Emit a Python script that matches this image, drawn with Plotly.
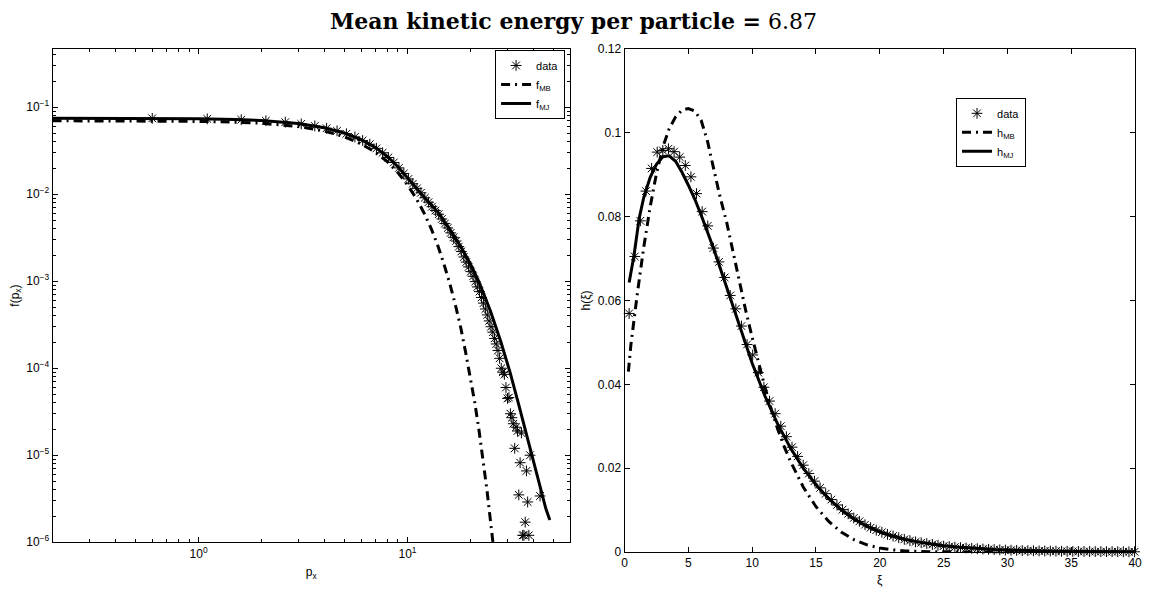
import plotly.graph_objects as go

# ---------------- left panel: f(p_x) ----------------
p_data = [0.6, 1.1, 1.6, 2.1, 2.6, 3.1, 3.6, 4.1, 4.6, 5.1, 5.6, 6.1, 6.6, 7.1, 7.6, 8.1, 8.6, 9.1, 9.6,
          10.1, 10.6, 11.1, 11.6, 12.1, 12.6, 13.1, 13.6, 14.1, 14.6, 15.1, 15.6, 16.1, 16.6, 17.1, 17.6,
          18.1, 18.6, 19.1, 19.6, 20.1, 20.6, 21.1, 21.6, 22.1, 22.6, 23.1, 23.6, 24.1, 24.6, 25.1, 25.6,
          26.1, 26.6, 27.1, 27.6, 28.1, 28.6, 29.1, 29.6, 30.1, 30.6, 31.1, 31.6, 32.1, 32.6, 33.1, 33.6,
          34.1, 34.6, 35.1, 35.6, 36.1, 36.6, 37.1, 37.6, 38.1, 38.6, 43.1]
f_data = [0.0746, 0.0736, 0.0720, 0.0700, 0.0674, 0.0644, 0.0610, 0.0574, 0.0536, 0.0496, 0.0456, 0.0415,
          0.0376, 0.0337, 0.0300, 0.0265, 0.0232, 0.0201, 0.0173, 0.0150, 0.0132, 0.0117, 0.0104, 0.0091,
          0.0081, 0.0072, 0.0065, 0.0059, 0.0052, 0.0046, 0.0041, 0.0036, 0.0032, 0.0029, 0.0025, 0.0022,
          0.0019, 0.00166, 0.00146, 0.00129, 0.00114, 9.9e-4, 8.6e-4, 7.6e-4, 6.5e-4, 5.6e-4, 4.8e-4, 4.1e-4,
          3.5e-4, 3.0e-4, 2.6e-4, 2.2e-4, 1.9e-4, 1.6e-4, 1.3e-4, 1.0e-4, 9.0e-5, 8.5e-5, 6.0e-5, 4.5e-5,
          4.6e-5, 3.0e-5, 2.7e-5, 2.3e-5, 1.2e-5, 2.1e-5, 1.9e-5, 3.5e-6, 8.2e-6, 1.8e-5, 1.2e-6, 1.2e-6,
          1.7e-6, 6.6e-6, 2.9e-6, 1.2e-6, 1.0e-5, 3.4e-6]

p_mb = [0.2, 0.5, 1, 1.5, 2, 3, 4, 5, 6, 7, 8, 9, 10, 11, 12, 13, 14, 15, 16, 17, 18, 19, 20, 21, 22,
        23, 24, 25, 26, 26.5]
f_mb = [0.0700, 0.0697, 0.0688, 0.0674, 0.0655, 0.0601, 0.0533, 0.0458, 0.0380, 0.0305, 0.0237, 0.0177,
        0.0128, 0.0090, 0.0061, 0.0040, 0.00253, 0.00153, 9.1e-4, 5.2e-4, 2.9e-4, 1.5e-4, 8.0e-5, 4.0e-5,
        1.92e-5, 8.9e-6, 4.0e-6, 1.7e-6, 7.4e-7, 5.0e-7]

p_mj = [0.2, 0.3, 0.5, 0.7, 1, 1.5, 2, 3, 4, 5, 6, 7, 8, 9, 10, 12, 14, 16, 18, 20, 22, 25, 28, 31, 34,
        37, 40, 43, 46, 48]
f_mj = [0.0750, 0.0750, 0.0749, 0.0745, 0.0738, 0.0724, 0.0705, 0.0650, 0.0582, 0.0505, 0.0425, 0.0348,
        0.0272, 0.0207, 0.0153, 0.0093, 0.0062, 0.0039, 0.0025, 0.00158, 9.8e-4, 4.5e-4, 2.0e-4, 8.9e-5,
        3.9e-5, 1.78e-5, 8.3e-6, 4.3e-6, 2.4e-6, 1.8e-6]

# ---------------- right panel: h(xi) ----------------
xi_data = [0.36, 0.80, 1.24, 1.68, 2.12, 2.56, 3.00, 3.44, 3.88, 4.32, 4.76, 5.20, 5.64, 6.08, 6.52, 6.96,
           7.40, 7.84, 8.28, 8.72, 9.16, 9.60, 10.04, 10.48, 10.92, 11.36, 11.80, 12.24, 12.68, 13.12,
           13.56, 14.00, 14.44, 14.88, 15.32, 15.76, 16.20, 16.64, 17.08, 17.52, 17.96, 18.40, 18.84,
           19.28, 19.72, 20.16, 20.60, 21.04, 21.48, 21.92, 22.36, 22.80, 23.24, 23.68, 24.12, 24.56,
           25.00, 25.44, 25.88, 26.32, 26.76, 27.20, 27.64, 28.08, 28.52, 28.96, 29.40, 29.84, 30.28,
           30.72, 31.16, 31.60, 32.04, 32.48, 32.92, 33.36, 33.80, 34.24, 34.68, 35.12, 35.56, 36.00,
           36.44, 36.88, 37.32, 37.76, 38.20, 38.64, 39.08, 39.52, 39.96, 40.40, 40.84]
h_data = [0.0569, 0.0705, 0.0790, 0.0861, 0.0915, 0.0954, 0.0958, 0.0962, 0.0955, 0.0942, 0.0922, 0.0895,
          0.0855, 0.0812, 0.0778, 0.0725, 0.0692, 0.0655, 0.0612, 0.0580, 0.0539, 0.0495, 0.0470, 0.0428,
          0.0393, 0.0360, 0.0330, 0.0300, 0.0275, 0.0250, 0.0228, 0.0207, 0.0187, 0.0169, 0.0153, 0.0139,
          0.0125, 0.0112, 0.0101, 0.0091, 0.0081, 0.0073, 0.0065, 0.0058, 0.0052, 0.0047, 0.0042, 0.0038,
          0.0034, 0.0030, 0.0027, 0.0024, 0.0022, 0.0020, 0.0018, 0.0016, 0.0014, 0.0013, 0.00115, 0.00104,
          0.00094, 0.00085, 0.00077, 0.00070, 0.00063, 0.00057, 0.00051, 0.00046, 0.00042, 0.00038,
          0.00034, 0.00031, 0.00028, 0.00025, 0.00023, 0.00021, 0.00019, 0.00017, 0.00015, 0.00014,
          0.00012, 0.00011, 0.00010, 0.00009, 0.00008, 0.00007, 0.00006, 0.00006, 0.00005, 0.00004, 0.00004,
          0.00003, 0.00003]

xi_mb = [0.3, 0.5, 1.0, 1.5, 2.0, 2.5, 3.0, 3.5, 4.0, 4.5, 5.0, 5.5, 6.0, 6.5, 7.0, 7.5, 8.0, 8.5, 9.0,
         9.5, 10.0, 10.5, 11.0, 11.5, 12.0, 12.5, 13.0, 14.0, 15.0, 16.0, 17.0, 18.0, 19.0, 20.0, 21.0,
         22.0, 23.0, 24.0, 26.0, 28.0, 30.0, 35.0, 40.0]
h_mb = [0.0430, 0.0495, 0.0616, 0.0726, 0.0822, 0.0903, 0.0966, 0.1010, 0.1038, 0.1054, 0.1058, 0.1052,
        0.1030, 0.0980, 0.0912, 0.0845, 0.0787, 0.0715, 0.0640, 0.0575, 0.0512, 0.0450, 0.0393, 0.0340,
        0.0293, 0.0252, 0.0216, 0.0155, 0.0108, 0.0073, 0.0047, 0.0029, 0.0017, 0.00095, 0.0005, 0.00025,
        0.00012, 0.00006, 0.00001, 0.000002, 0.0, 0.0, 0.0]

xi_mj = [0.36, 0.75, 1.14, 1.5, 2.0, 2.5, 3.0, 3.5, 4.0, 4.5, 5.0, 5.5, 6.0, 6.5, 7.0, 7.5, 8.0, 8.5, 9.0,
         9.5, 10.0, 11.0, 12.0, 13.0, 14.0, 15.0, 16.0, 17.0, 18.0, 19.0, 20.0, 21.0, 22.0, 23.0, 24.0,
         25.0, 26.0, 27.0, 28.0, 29.0, 30.0, 32.0, 34.0, 36.0, 38.0, 40.0]
h_mj = [0.0643, 0.0709, 0.0795, 0.0845, 0.0893, 0.0925, 0.0943, 0.0945, 0.0932, 0.0906, 0.0875, 0.0842,
        0.0804, 0.0765, 0.0722, 0.0677, 0.0631, 0.0585, 0.0538, 0.0493, 0.0450, 0.0372, 0.0305, 0.0248,
        0.0200, 0.0160, 0.0127, 0.0100, 0.0078, 0.0061, 0.0048, 0.0038, 0.0030, 0.0024, 0.0019, 0.0015,
        0.0012, 0.00095, 0.00076, 0.0006, 0.00048, 0.0003, 0.00019, 0.00012, 0.000075, 0.000047]

logx_tickvals = [1, 10]
logx_ticktext = ["10<sup>0</sup>", "10<sup>1</sup>"]
logy_tickvals = [1e-6, 1e-5, 1e-4, 1e-3, 1e-2, 1e-1]
logy_ticktext = ["10<sup>−6</sup>", "10<sup>−5</sup>", "10<sup>−4</sup>", "10<sup>−3</sup>",
                 "10<sup>−2</sup>", "10<sup>−1</sup>"]
lin_xticks = [0, 5, 10, 15, 20, 25, 30, 35, 40]
lin_yticks = [0, 0.02, 0.04, 0.06, 0.08, 0.1, 0.12]
lin_yticktext = ["0", "0.02", "0.04", "0.06", "0.08", "0.1", "0.12"]

FONT = "Liberation Sans, Arial, sans-serif"
DASHDOT = "9px,5px,2px,5px"
star = dict(symbol="asterisk-open", size=9, color="black", line=dict(color="black", width=1))

fig = go.Figure()

fig.add_trace(go.Scatter(x=p_data, y=f_data, mode="markers", marker=star, name="data",
                         xaxis="x", yaxis="y", legend="legend"))
fig.add_trace(go.Scatter(x=p_mb, y=f_mb, mode="lines", line=dict(color="black", width=3, dash=DASHDOT),
                         name="f<sub>MB</sub>", xaxis="x", yaxis="y", legend="legend"))
fig.add_trace(go.Scatter(x=p_mj, y=f_mj, mode="lines", line=dict(color="black", width=3),
                         name="f<sub>MJ</sub>", xaxis="x", yaxis="y", legend="legend"))

fig.add_trace(go.Scatter(x=xi_data, y=h_data, mode="markers", marker=star, name="data",
                         xaxis="x2", yaxis="y2", legend="legend2", cliponaxis=False))
fig.add_trace(go.Scatter(x=xi_mb, y=h_mb, mode="lines", line=dict(color="black", width=3, dash=DASHDOT),
                         name="h<sub>MB</sub>", xaxis="x2", yaxis="y2", legend="legend2"))
fig.add_trace(go.Scatter(x=xi_mj, y=h_mj, mode="lines", line=dict(color="black", width=3),
                         name="h<sub>MJ</sub>", xaxis="x2", yaxis="y2", legend="legend2"))

W, H = 1150, 599
L_x0, L_x1, L_y0, L_y1 = 50, 572, 43, 548
R_x0, R_x1, R_y0, R_y1 = 627, 1142, 43, 558

axis_common = dict(showline=True, linecolor="black", linewidth=1, mirror="ticks", ticks="inside",
                   ticklen=5, tickcolor="black", showgrid=False, zeroline=False,
                   tickfont=dict(family=FONT, size=12, color="black"))

fig.update_layout(
    width=W, height=H, paper_bgcolor="white", plot_bgcolor="white",
    margin=dict(l=0, r=0, t=0, b=0),
    showlegend=True,
    xaxis=dict(type="log", range=[-0.699, 1.778], domain=[L_x0 / W, L_x1 / W], anchor="y",
               tickvals=logx_tickvals, ticktext=logx_ticktext,
               minor=dict(ticks="inside", ticklen=3, tickcolor="black", dtick="D1"),
               title=dict(text="p<sub>x</sub>", font=dict(family=FONT, size=12, color="black"), standoff=8),
               **axis_common),
    yaxis=dict(type="log", range=[-6, -0.33], domain=[1 - L_y1 / H, 1 - L_y0 / H], anchor="x",
               tickvals=logy_tickvals, ticktext=logy_ticktext,
               minor=dict(ticks="inside", ticklen=3, tickcolor="black", dtick="D1"),
               title=dict(text="f(p<sub>x</sub>)", font=dict(family=FONT, size=12, color="black"), standoff=4),
               **axis_common),
    xaxis2=dict(range=[0, 40], domain=[R_x0 / W, R_x1 / W], anchor="y2",
                tickvals=lin_xticks,
                title=dict(text="ξ", font=dict(family=FONT, size=12, color="black"), standoff=6),
                **axis_common),
    yaxis2=dict(range=[0, 0.12], domain=[1 - R_y1 / H, 1 - R_y0 / H], anchor="x2",
                tickvals=lin_yticks, ticktext=lin_yticktext,
                title=dict(text="h(ξ)", font=dict(family=FONT, size=12, color="black"), standoff=4),
                **axis_common),
    legend=dict(x=567 / W, y=1 - 44 / H, xanchor="right", yanchor="top", bgcolor="white",
                bordercolor="black", borderwidth=1, font=dict(family=FONT, size=11, color="black"),
                itemwidth=30, tracegroupgap=0),
    legend2=dict(x=1032 / W, y=1 - 93 / H, xanchor="right", yanchor="top", bgcolor="white",
                 bordercolor="black", borderwidth=1, font=dict(family=FONT, size=11, color="black"),
                 itemwidth=30, tracegroupgap=0),
    annotations=[dict(text="<b>Mean kinetic energy per particle =</b> 6.87", x=0.5, y=1 - 14 / H,
                      xref="paper", yref="paper", showarrow=False, xanchor="center", yanchor="middle",
                      font=dict(family="DejaVu Serif, serif", size=22, color="black"))],
)

fig.write_html("out.html", config={"displayModeBar": False},
               post_script="document.body.style.margin='0';document.body.style.padding='0';")
